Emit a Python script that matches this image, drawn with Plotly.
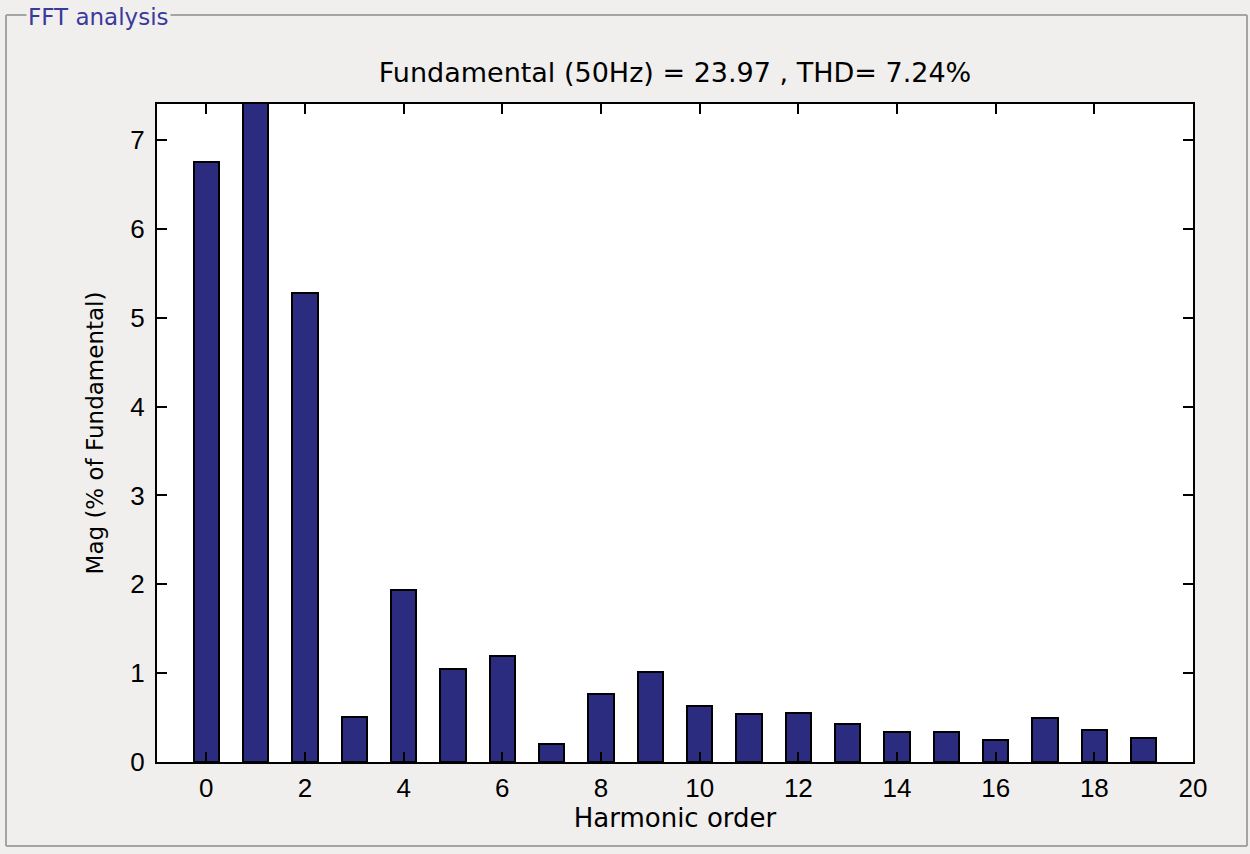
import plotly.graph_objects as go

harmonic_order = list(range(0, 20))
magnitude_pct = [6.75, 100.0, 5.28, 0.51, 1.94, 1.05, 1.19, 0.20, 0.76, 1.01,
                 0.63, 0.54, 0.555, 0.425, 0.335, 0.335, 0.245, 0.49, 0.355, 0.265]
x_ticks = list(range(0, 21, 2))
y_ticks = list(range(0, 8))
title_text = "Fundamental (50Hz) = 23.97 , THD= 7.24%"

W, H = 1250, 854
L, R, T, B = 157, 1193, 104, 762
pw, ph = R - L, B - T
BG = "#f0efed"

def px(x):
    return (x - L) / pw

def py(y):
    return (B - y) / ph

lab_font = "DejaVu Sans, sans-serif"
tick_font = "Liberation Sans, Arial, sans-serif"

fig = go.Figure()
fig.add_trace(go.Bar(
    x=harmonic_order, y=magnitude_pct, width=0.52,
    marker=dict(color="#2b2b80", line=dict(color="#000000", width=2)),
))

frame = "#a4a4a4"
shapes = [
    dict(type="line", xref="paper", yref="paper", x0=px(6), x1=px(6), y0=py(15), y1=py(846), line=dict(color=frame, width=2)),
    dict(type="line", xref="paper", yref="paper", x0=px(6), x1=px(1247), y0=py(846), y1=py(846), line=dict(color=frame, width=2)),
    dict(type="line", xref="paper", yref="paper", x0=px(1247), x1=px(1247), y0=py(15), y1=py(846), line=dict(color=frame, width=2)),
    dict(type="line", xref="paper", yref="paper", x0=px(6), x1=px(1247), y0=py(15), y1=py(15), line=dict(color=frame, width=2)),
]

fig.update_layout(
    width=W, height=H,
    margin=dict(l=L, r=W - R, t=T, b=H - B),
    paper_bgcolor=BG, plot_bgcolor="#ffffff",
    showlegend=False,
    bargap=0,
    font=dict(family=tick_font, size=26, color="#000000"),
    title=dict(text=title_text, x=0.5, xref="paper", xanchor="center",
               y=1 - 73 / H, yref="container", yanchor="middle",
               font=dict(family=lab_font, size=27, color="#000000")),
    shapes=shapes,
    annotations=[dict(text="FFT analysis", xref="paper", yref="paper",
                      x=px(26), y=py(17), xanchor="left", yanchor="middle",
                      showarrow=False, bgcolor=BG, borderpad=1,
                      font=dict(family=lab_font, size=23, color="#3a3a9c"))],
    xaxis=dict(range=[-1, 20], tickvals=x_ticks, ticks="inside", ticklen=10, tickwidth=2,
               tickcolor="#000", showline=True, linecolor="#000", linewidth=2, mirror="ticks",
               showgrid=False, zeroline=False, tickfont=dict(family=tick_font, size=26),
               ticklabelstandoff=2,
               title=dict(text="Harmonic order", standoff=6, font=dict(family=lab_font, size=26))),
    yaxis=dict(range=[0, 7.405], tickvals=y_ticks, ticks="inside", ticklen=10, tickwidth=2,
               tickcolor="#000", showline=True, linecolor="#000", linewidth=2, mirror="ticks",
               showgrid=False, zeroline=False, tickfont=dict(family=tick_font, size=26),
               ticklabelstandoff=5,
               title=dict(text="Mag (% of Fundamental)", standoff=20, font=dict(family=lab_font, size=23))),
)

post = "document.body.style.margin='0';document.body.style.background='%s';document.documentElement.style.background='%s';" % (BG, BG)
fig.write_html("out.html", post_script=post, config={"displayModeBar": False})
